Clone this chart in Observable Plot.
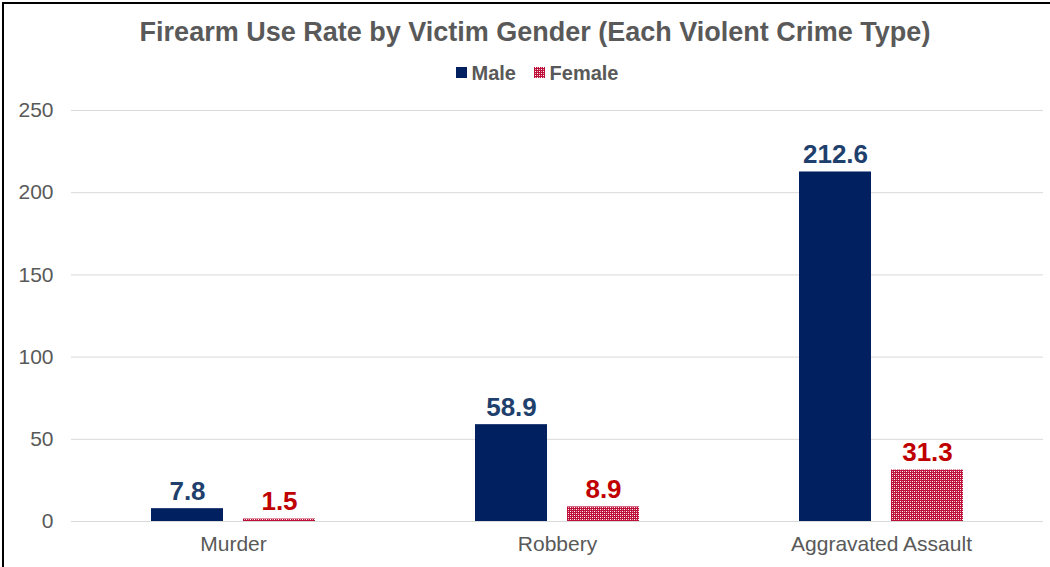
<!DOCTYPE html>
<html>
<head>
<meta charset="utf-8">
<script src="https://cdn.jsdelivr.net/npm/d3@7"></script>
<script src="https://cdn.jsdelivr.net/npm/@observablehq/plot@0.6"></script>
<style>
  html, body { margin: 0; padding: 0; background: #fff; }
  body { width: 1050px; height: 567px; position: relative; overflow: hidden; font-family: "Liberation Sans", Arial, sans-serif; }
  #frame { position: absolute; left: 2px; top: 2px; width: 1060px; height: 600px; border-left: 2px solid #000; border-top: 2px solid #000; box-sizing: border-box; pointer-events: none; }
  #title { position: absolute; left: 0; width: 1070px; top: 17px; text-align: center; font-size: 27px; font-weight: bold; color: #595959; }
  #legend { position: absolute; left: 0; width: 1074px; top: 62px; text-align: center; font-size: 20px; font-weight: bold; color: #595959; }
  #legend span.item { display: inline-block; margin: 0 6px; }
  #legend svg { vertical-align: middle; margin-right: 5px; position: relative; top: -2px; }
  #chart { position: absolute; left: 0; top: 95px; }
</style>
</head>
<body>
<svg width="0" height="0" style="position:absolute">
  <defs>
    <pattern id="femPat" width="4" height="4" patternUnits="userSpaceOnUse">
      <rect width="4" height="4" fill="#bd1039"/>
      <rect x="1" y="0" width="1" height="1" fill="#ffffff"/>
      <rect x="3" y="2" width="1" height="1" fill="#ffffff"/>
      <rect x="1" y="2" width="1" height="1" fill="#eaa3b4"/>
      <rect x="3" y="0" width="1" height="1" fill="#eaa3b4"/>
    </pattern>
  </defs>
</svg>
<div id="frame"></div>
<div id="title">Firearm Use Rate by Victim Gender (Each Violent Crime Type)</div>
<div id="legend">
  <span class="item"><svg width="11" height="11"><rect width="11" height="11" fill="#002060"/></svg>Male</span>
  <span class="item"><svg width="11" height="11"><rect width="11" height="11" fill="url(#femPat)"/></svg>Female</span>
</div>
<div id="chart"></div>
<script>
const categories = ["Murder", "Robbery", "Aggravated Assault"];
const genders = ["Male", "Female"];
const maleValues = [7.8, 58.9, 212.6];
const femaleValues = [1.5, 8.9, 31.3];
const yTicks = [0, 50, 100, 150, 200, 250];

const rows = [];
categories.forEach((c, i) => {
  rows.push({category: c, gender: "Male", value: maleValues[i]});
  rows.push({category: c, gender: "Female", value: femaleValues[i]});
});
const male = rows.filter(d => d.gender === "Male");
const female = rows.filter(d => d.gender === "Female");

const chart = Plot.plot({
  width: 1050,
  height: 472,
  marginLeft: 70,
  marginRight: 6,
  marginTop: 15,
  marginBottom: 46,
  style: {fontFamily: "'Liberation Sans', Arial, sans-serif", fontSize: "21px", color: "#595959", background: "transparent"},
  fx: {domain: categories, padding: 0, label: null, axis: "bottom", tickSize: 0, tickPadding: 15},
  x: {domain: genders, paddingInner: 0.215, paddingOuter: 0.853, axis: null},
  y: {domain: [0, 250], ticks: yTicks, label: null, tickSize: 0, tickPadding: 18, grid: false},
  marks: [
    Plot.ruleY(yTicks, {stroke: "#d9d9d9", strokeWidth: 1, facet: "exclude"}),
    Plot.axisY({ticks: yTicks, tickSize: 0, tickPadding: 18, label: null, fontSize: 21, fill: "#595959"}),
    Plot.barY(male, {fx: "category", x: "gender", y: "value", fill: "#002060"}),
    Plot.barY(female, {fx: "category", x: "gender", y: "value", fill: "url(#femPat)"}),
    Plot.text(male, {fx: "category", x: "gender", y: "value", text: d => d.value.toFixed(1), lineAnchor: "bottom", dy: -9, fill: "#1f3f6d", fontSize: 26, fontWeight: "bold"}),
    Plot.text(female, {fx: "category", x: "gender", y: "value", text: d => d.value.toFixed(1), lineAnchor: "bottom", dy: -9, fill: "#c00000", fontSize: 26, fontWeight: "bold"})
  ]
});
document.getElementById("chart").appendChild(chart);
</script>
</body>
</html>
